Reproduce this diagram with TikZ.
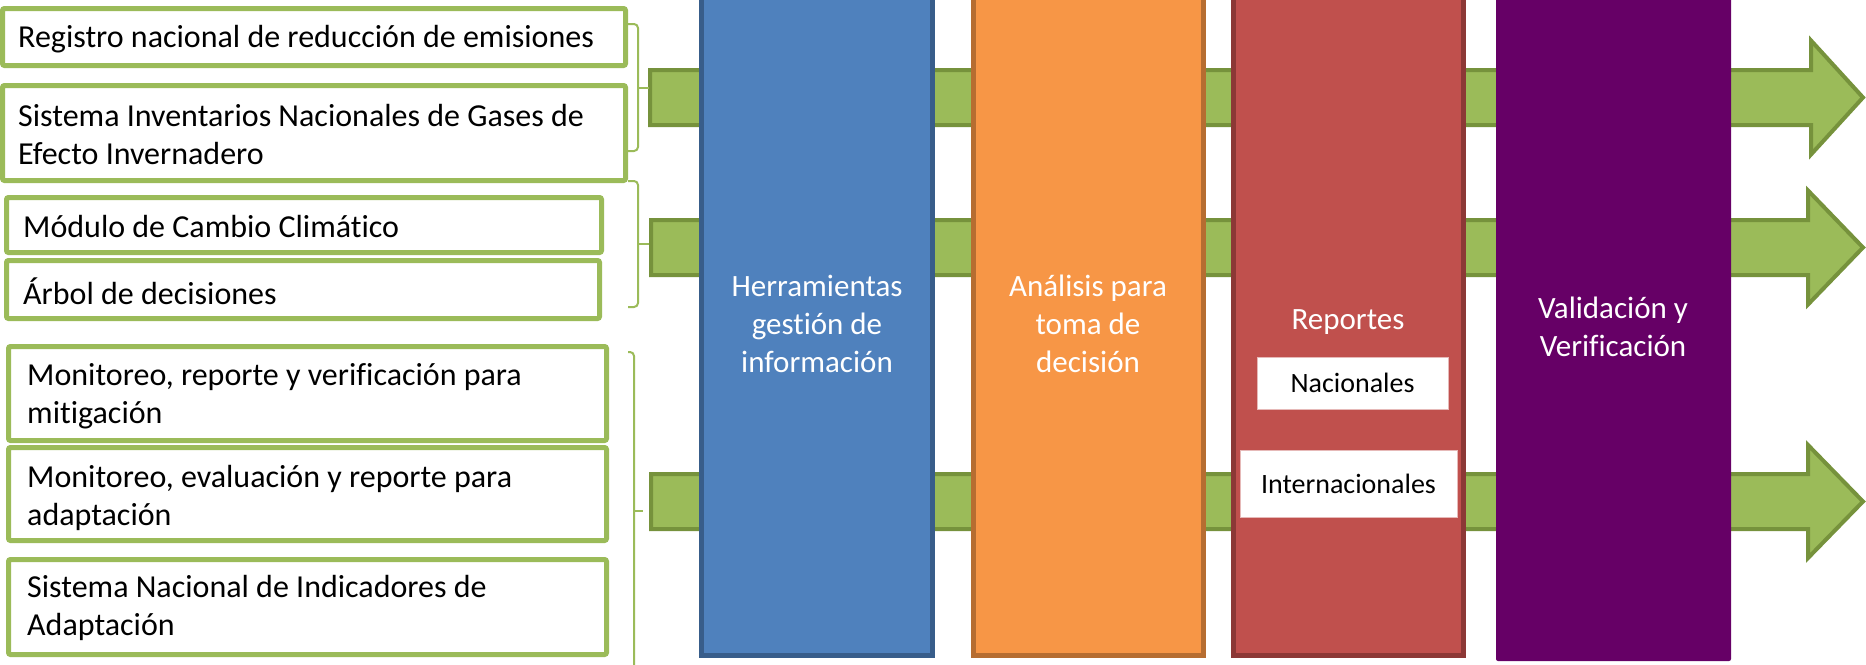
\documentclass[tikz,border=0pt]{standalone}
\usepackage{fontspec}
\setmainfont{Carlito}[Ligatures={NoCommon,NoContextual}]
\definecolor{lgreen}{HTML}{9BBB59}
\definecolor{agreen}{HTML}{9BBB59}
\definecolor{adark}{HTML}{76923C}
\definecolor{cblue}{HTML}{4F81BD}
\definecolor{cblueD}{HTML}{385D8A}
\definecolor{corange}{HTML}{F79646}
\definecolor{corangeD}{HTML}{B66D31}
\definecolor{cred}{HTML}{C0504D}
\definecolor{credD}{HTML}{8C3836}
\definecolor{cpurple}{HTML}{660066}
\definecolor{pinkline}{HTML}{E6B9B8}
\tikzset{
  lbox/.style={draw=lgreen, line width=5pt, fill=white, rounded corners=2pt},
  ltext/.style={anchor=west, align=left, inner sep=0pt, text=black,
    font=\fontsize{32}{38}\selectfont},
  bracket/.style={draw=lgreen, line width=2pt, rounded corners=4pt},
  garrow/.style={fill=agreen, draw=adark, line width=4pt, line join=miter},
  colbox/.style={line width=5pt},
  ctext/.style={align=center, text=white, inner sep=0pt,
    font=\fontsize{31}{38}\selectfont},
  wbox/.style={fill=white, draw=pinkline, line width=1pt, text=black,
    inner sep=0pt, font=\fontsize{28}{34}\selectfont}
}
\begin{document}
\begin{tikzpicture}[x=1pt,y=-1pt]
\useasboundingbox (0,0) rectangle (1866,664);
% arrows
\draw[garrow] (650,70) -- (1811,70) -- (1811,40.5) -- (1863,97.5) -- (1811,154.5) -- (1811,125) -- (650,125) -- cycle;
\draw[garrow] (651,220) -- (1808,220) -- (1808,190.5) -- (1863,247.5) -- (1808,304.5) -- (1808,275) -- (651,275) -- cycle;
\draw[garrow] (651,474) -- (1808,474) -- (1808,445) -- (1863,501.5) -- (1808,558) -- (1808,529) -- (651,529) -- cycle;
% columns
\draw[colbox, fill=cblue, draw=cblueD] (701.5,-10) rectangle (932.5,655.5);
\draw[colbox, fill=corange, draw=corangeD] (973.5,-10) rectangle (1203.5,655.5);
\draw[colbox, fill=cred, draw=credD] (1233.5,-10) rectangle (1463.5,655.5);
\fill[cpurple, rounded corners=2pt] (1496,-10) rectangle (1731,661);
\node[ctext] (herr) at (817,324) {Herramientas\\gestión de\\información};
\node[ctext] (anal) at (1088,324) {Análisis para\\toma de\\decisión};
\node[ctext] (rep) at (1348,322) {Reportes};
\node[ctext] (val) at (1613,327) {Validación y\\Verificación};
\node[wbox, minimum width=191, minimum height=52] (nac) at (1352.5,383) {Nacionales};
\node[wbox, minimum width=217, minimum height=67] (inter) at (1348.5,483.5) {Internacionales};
% left boxes
\draw[lbox] (2.5,8.5) rectangle (625.5,65.5);
\draw[lbox] (2.5,85.5) rectangle (625.5,180.5);
\draw[lbox] (6.5,197.5) rectangle (601.5,252.5);
\draw[lbox] (6.5,260.5) rectangle (599.5,318.5);
\draw[lbox] (8.5,346.5) rectangle (606.5,440.5);
\draw[lbox] (8.5,447.5) rectangle (606.5,540.5);
\draw[lbox] (8.5,559.5) rectangle (606.5,654.5);
\node[ltext] (t1) at (18,39) {Registro nacional de reducción de emisiones};
\node[ltext] (t2) at (18,135) {Sistema Inventarios Nacionales de Gases de\\Efecto Invernadero};
\node[ltext] (t3) at (23,227) {Módulo de Cambio Climático};
\node[ltext] (t4) at (23,291) {Árbol de decisiones};
\node[ltext] (t5) at (27,396) {Monitoreo, reporte y verificación para\\mitigación};
\node[ltext] (t6) at (27,498) {Monitoreo, evaluación y reporte para\\adaptación};
\node[ltext] (t7) at (27,608) {Sistema Nacional de Indicadores de\\Adaptación};
% brackets
\draw[bracket] (628,24) -- (638,24) -- (638,151) -- (628,151);
\draw[bracket] (638,88) -- (649,88);
\draw[bracket] (628,181) -- (638,181) -- (638,307) -- (628,307);
\draw[bracket] (638,244) -- (649,244);
\draw[bracket] (628,352) -- (634,352) -- (634,690);
\draw[bracket] (634,511) -- (643,511);
\end{tikzpicture}
\end{document}
